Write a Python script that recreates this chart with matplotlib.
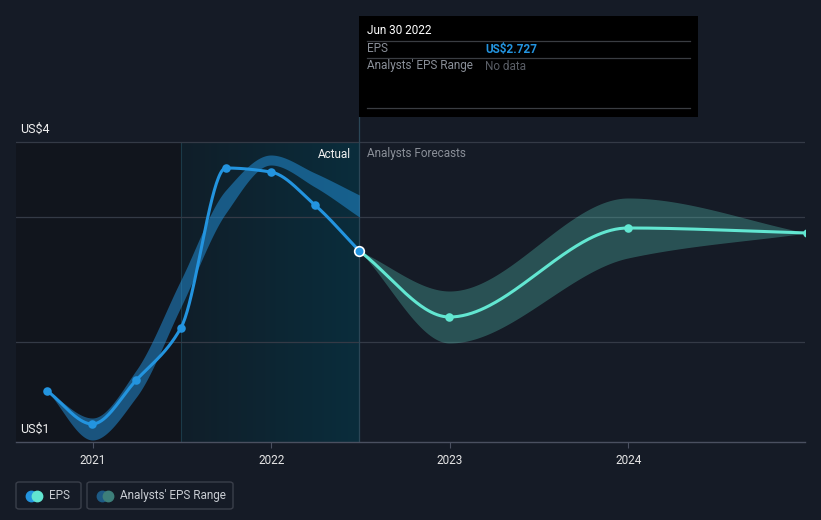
import matplotlib

matplotlib.use("Agg")

import matplotlib.dates as mdates
import matplotlib.pyplot as plt
import numpy as np
import pandas as pd
from matplotlib.patches import FancyBboxPatch, Rectangle

plt.rcParams["font.family"] = ["Roboto", "DejaVu Sans"]

# ------------------------------------------------------------------
# Data
# ------------------------------------------------------------------
hist_dates = [
    "2020-09-30", "2020-12-31", "2021-03-31", "2021-06-30",
    "2021-09-30", "2021-12-31", "2022-03-31", "2022-06-30",
]
hist_eps = [1.51, 1.18, 1.62, 2.14, 3.74, 3.70, 3.37, 2.91]
hist_range_hi = [1.51, 1.24, 1.72, 2.62, 3.52, 3.87, 3.69, 3.47]
hist_range_lo = [1.51, 1.02, 1.45, 2.35, 3.29, 3.77, 3.55, 3.25]

fc_dates = ["2022-06-30", "2022-12-31", "2023-12-31", "2024-12-31"]
fc_eps = [2.91, 2.25, 3.14, 3.09]
fc_range_hi = [2.91, 2.51, 3.44, 3.09]
fc_range_lo = [2.91, 1.99, 2.84, 3.09]

year_ticks = ["2021", "2022", "2023", "2024"]
grid_levels = [2.0, 3.25, 4.0]

BG = "#151b26"
BLUE = "#2394df"
AQUA = "#62e6d1"
W, H = 821, 520


def px(x, y):
    """Pixel position -> figure fraction."""
    return x / W, 1 - y / H


def monotone(x, y, n=300):
    """Monotone cubic curve through the points (like d3 curveMonotoneX)."""
    x = np.asarray(x, float)
    y = np.asarray(y, float)
    h = np.diff(x)
    d = np.diff(y) / h
    m = np.zeros_like(y)
    m[0], m[-1] = d[0], d[-1]
    for i in range(1, len(y) - 1):
        if d[i - 1] * d[i] <= 0:
            m[i] = 0.0
        else:
            m[i] = 3 * (h[i - 1] + h[i]) / (
                (2 * h[i] + h[i - 1]) / d[i - 1] + (h[i] + 2 * h[i - 1]) / d[i]
            )
    xs = np.linspace(x[0], x[-1], n)
    k = np.clip(np.searchsorted(x, xs) - 1, 0, len(h) - 1)
    t = (xs - x[k]) / h[k]
    h00 = 2 * t**3 - 3 * t**2 + 1
    h10 = t**3 - 2 * t**2 + t
    h01 = -2 * t**3 + 3 * t**2
    h11 = t**3 - t**2
    ys = h00 * y[k] + h10 * h[k] * m[k] + h01 * y[k + 1] + h11 * h[k] * m[k + 1]
    return xs, ys


hx = mdates.date2num(pd.to_datetime(hist_dates))
fx = mdates.date2num(pd.to_datetime(fc_dates))
x_left = mdates.date2num(pd.Timestamp("2020-07-28"))
x_right = mdates.date2num(pd.Timestamp("2024-12-27"))
x_split = hx[3]
x_now = hx[-1]

fig = plt.figure(figsize=(W / 100, H / 100), dpi=100, facecolor=BG)
ax = fig.add_axes([16 / W, 78 / H, 789 / W, 325 / H])
ax.set_facecolor(BG)

# shaded periods
ax.add_patch(Rectangle((x_left, 1.0), x_split - x_left, 3.0,
                       facecolor="#11151d", edgecolor="none", zorder=0))
grad = np.linspace(0, 1, 256).reshape(1, -1)
c0 = np.array([0x10, 0x1e, 0x29]) / 255
c1 = np.array([0x0a, 0x2d, 0x3c]) / 255
img = c0 + (c1 - c0) * grad[..., None]
ax.imshow(img, extent=[x_split, x_now, 1.0, 4.0], aspect="auto", zorder=0.5)
ax.axvline(x_split, ymin=0, ymax=3.0 / 3.25, color="#1b3a48", lw=0.8, zorder=0.6)

for g in grid_levels:
    ax.axhline(g, color="#343a46", lw=0.9, zorder=1)
ax.axvline(x_now, color="#2b4656", lw=0.9, zorder=1)

# analyst ranges
bx, bhi = monotone(hx, hist_range_hi)
_, blo = monotone(hx, hist_range_lo)
ax.fill_between(bx, blo, bhi, color=BLUE, alpha=0.5, lw=0, zorder=2)

fbx, fhi = monotone(fx, fc_range_hi)
_, flo = monotone(fx, fc_range_lo)
ax.fill_between(fbx, flo, fhi, color=AQUA, alpha=0.27, lw=0, zorder=2)

# EPS lines
lx, ly = monotone(hx, hist_eps)
ax.plot(lx, ly, color=BLUE, lw=2.2, zorder=3, solid_capstyle="round")
ax.scatter(hx[:-1], hist_eps[:-1], s=38, color=BLUE, zorder=4, lw=0)

mx, my = monotone(fx, fc_eps)
ax.plot(mx, my, color=AQUA, lw=2.2, zorder=3, solid_capstyle="round")
ax.scatter(fx[1:], fc_eps[1:], s=38, color=AQUA, zorder=4, lw=0)
ax.scatter([hx[-1]], [hist_eps[-1]], s=48, color=BLUE, edgecolor="white",
           lw=1.2, zorder=5)

ax.set_xlim(x_left, x_right)
ax.set_ylim(1.0, 4.25)
ax.set_yticks([])
ax.set_xticks(mdates.date2num(pd.to_datetime([f"{y}-01-01" for y in year_ticks])))
ax.set_xticklabels(year_ticks)
ax.tick_params(axis="x", colors="#4a5060", labelcolor="#e6e6e6",
               length=4, width=0.8, labelsize=8.5, pad=5)
for side in ["top", "right", "left"]:
    ax.spines[side].set_visible(False)
ax.spines["bottom"].set_color("#4a5060")
ax.spines["bottom"].set_linewidth(1.0)

# labels inside the chart
ax.text(x_left + 8, 4.0 + 0.06, "US$4", color="#f0f0f0", fontsize=9, va="bottom")
ax.text(x_left + 8, 1.0 + 0.06, "US$1", color="#f0f0f0", fontsize=9, va="bottom")
ax.text(x_now - 18, 3.88, "Actual", color="#f0f0f0", fontsize=8.5,
        ha="right", va="center")
ax.text(x_now + 16, 3.88, "Analysts Forecasts", color="#8a8f98", fontsize=8.5,
        ha="left", va="center")

# tooltip
tf = fig.transFigure
x0, y0 = px(359, 117)
x1, y1 = px(698, 16)
fig.patches.append(Rectangle((x0, y0), x1 - x0, y1 - y0, transform=tf,
                             facecolor="black", edgecolor="none", zorder=5))
for yy in [41, 58, 108]:
    fig.add_artist(plt.Line2D([367 / W, 690 / W], [1 - yy / H] * 2,
                              transform=tf, color="#3a3d42", lw=0.9, zorder=6))
tip_texts = [
    (367, 31, "Jun 30 2022", "white", "normal"),
    (367, 49, "EPS", "#8a8f98", "normal"),
    (485, 49, "US$2.727", BLUE, "bold"),
    (367, 66, "Analysts' EPS Range", "#8a8f98", "normal"),
    (485, 66, "No data", "#5a5e66", "normal"),
]
for tx, ty, s, c, wgt in tip_texts:
    fig.text(*px(tx, ty), s, color=c, fontsize=8.5, va="center",
             fontweight=wgt, zorder=7)

# legend
legend_items = [
    (16, 81, "EPS", BLUE, AQUA),
    (87, 233, "Analysts' EPS Range", "#1d5a85", "#3d7f7a"),
]
for lx0, lx1, label, ca, cb in legend_items:
    bx0, by0 = px(lx0, 509)
    bx1, by1 = px(lx1, 482)
    fig.patches.append(FancyBboxPatch(
        (bx0, by0), bx1 - bx0, by1 - by0, transform=tf,
        boxstyle="round,pad=0,rounding_size=0.004",
        facecolor="none", edgecolor="#3a3f4a", lw=1.0))
    fig.add_artist(plt.Line2D([(lx0 + 15) / W], [1 - 495.5 / H], transform=tf,
                              marker="o", ms=7.5, color=ca, lw=0))
    fig.add_artist(plt.Line2D([(lx0 + 21) / W], [1 - 495.5 / H], transform=tf,
                              marker="o", ms=7.5, color=cb, lw=0))
    fig.text((lx0 + 33) / W, 1 - 495.5 / H, label, color="#c8ccd2",
             fontsize=8.5, va="center")

fig.savefig("out.png", dpi=100, facecolor=BG)
